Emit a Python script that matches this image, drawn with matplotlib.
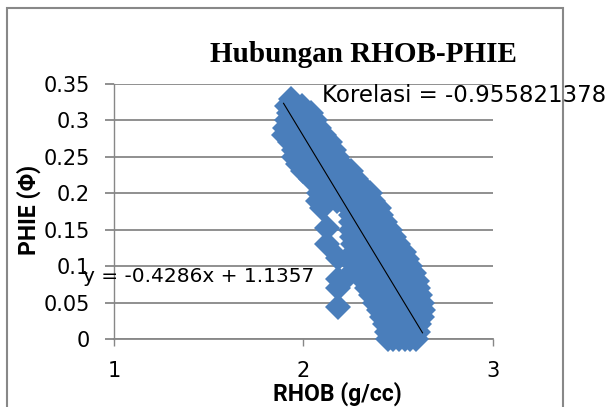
import matplotlib.pyplot as plt
from matplotlib.patches import Rectangle
from matplotlib.ticker import FuncFormatter

# data (RHOB g/cc, PHIE), row by row from top to bottom
rhob = [1.935,
        1.915, 1.96, 1.99,
        1.925, 1.97, 2.015, 2.04,
        1.915, 1.96, 2.01, 2.06,
        1.905, 1.95, 1.995, 2.04, 2.085,
        1.895, 1.94, 1.985, 2.03, 2.075, 2.11,
        1.93, 1.975, 2.02, 2.065, 2.105, 2.14,
        1.95, 1.995, 2.04, 2.085, 2.125, 2.16,
        1.95, 1.995, 2.04, 2.085, 2.13, 2.18,
        1.97, 2.015, 2.06, 2.105, 2.15, 2.205,
        2.00, 2.045, 2.09, 2.135, 2.18, 2.225, 2.25,
        2.04, 2.085, 2.13, 2.175, 2.22, 2.265, 2.28,
        2.09, 2.135, 2.18, 2.225, 2.27, 2.31,
        2.08, 2.175, 2.215, 2.26, 2.305, 2.35,
        2.075, 2.12, 2.18, 2.225, 2.27, 2.32, 2.37,
        2.10, 2.24, 2.285, 2.33, 2.375, 2.40,
        2.25, 2.295, 2.34, 2.385, 2.41,
        2.25, 2.295, 2.34, 2.385, 2.43,
        2.124, 2.25, 2.295, 2.34, 2.385, 2.43, 2.46,
        2.255, 2.30, 2.345, 2.39, 2.435, 2.48,
        2.124, 2.26, 2.305, 2.35, 2.395, 2.44, 2.485, 2.50,
        2.265, 2.31, 2.355, 2.40, 2.445, 2.49, 2.53,
        2.185, 2.27, 2.315, 2.36, 2.405, 2.45, 2.495, 2.54, 2.55,
        2.275, 2.32, 2.365, 2.41, 2.455, 2.50, 2.545, 2.565,
        2.24, 2.30, 2.345, 2.39, 2.435, 2.48, 2.525, 2.57, 2.585,
        2.185, 2.32, 2.365, 2.41, 2.455, 2.50, 2.545, 2.60,
        2.185, 2.337, 2.38, 2.425, 2.47, 2.515, 2.56, 2.607,
        2.36, 2.405, 2.45, 2.495, 2.54, 2.585, 2.615,
        2.38, 2.425, 2.47, 2.515, 2.56, 2.605, 2.625,
        2.185, 2.40, 2.445, 2.49, 2.535, 2.58, 2.63,
        2.415, 2.46, 2.505, 2.55, 2.595, 2.625,
        2.43, 2.475, 2.52, 2.565, 2.61,
        2.44, 2.485, 2.53, 2.575, 2.605,
        2.45, 2.475, 2.505, 2.535, 2.565, 2.595]
phie = [0.33,
        0.32, 0.32, 0.32,
        0.31, 0.31, 0.31, 0.31,
        0.30, 0.30, 0.30, 0.30,
        0.29, 0.29, 0.29, 0.29, 0.29,
        0.28, 0.28, 0.28, 0.28, 0.28, 0.28,
        0.27, 0.27, 0.27, 0.27, 0.27, 0.27,
        0.26, 0.26, 0.26, 0.26, 0.26, 0.26,
        0.25, 0.25, 0.25, 0.25, 0.25, 0.25,
        0.24, 0.24, 0.24, 0.24, 0.24, 0.24,
        0.23, 0.23, 0.23, 0.23, 0.23, 0.23, 0.23,
        0.22, 0.22, 0.22, 0.22, 0.22, 0.22, 0.22,
        0.21, 0.21, 0.21, 0.21, 0.21, 0.21,
        0.20, 0.20, 0.20, 0.20, 0.20, 0.20,
        0.19, 0.19, 0.19, 0.19, 0.19, 0.19, 0.19,
        0.18, 0.18, 0.18, 0.18, 0.18, 0.18,
        0.17, 0.17, 0.17, 0.17, 0.17,
        0.16, 0.16, 0.16, 0.16, 0.16,
        0.152, 0.15, 0.15, 0.15, 0.15, 0.15, 0.15,
        0.14, 0.14, 0.14, 0.14, 0.14, 0.14,
        0.131, 0.13, 0.13, 0.13, 0.13, 0.13, 0.13, 0.13,
        0.12, 0.12, 0.12, 0.12, 0.12, 0.12, 0.12,
        0.111, 0.11, 0.11, 0.11, 0.11, 0.11, 0.11, 0.11, 0.11,
        0.10, 0.10, 0.10, 0.10, 0.10, 0.10, 0.10, 0.10,
        0.088, 0.09, 0.09, 0.09, 0.09, 0.09, 0.09, 0.09, 0.09,
        0.083, 0.08, 0.08, 0.08, 0.08, 0.08, 0.08, 0.08,
        0.07, 0.07, 0.07, 0.07, 0.07, 0.07, 0.07, 0.07,
        0.06, 0.06, 0.06, 0.06, 0.06, 0.06, 0.06,
        0.05, 0.05, 0.05, 0.05, 0.05, 0.05, 0.05,
        0.044, 0.04, 0.04, 0.04, 0.04, 0.04, 0.04,
        0.03, 0.03, 0.03, 0.03, 0.03, 0.03,
        0.02, 0.02, 0.02, 0.02, 0.02,
        0.01, 0.01, 0.01, 0.01, 0.01,
        0.00, 0.00, 0.00, 0.00, 0.00, 0.00]

# trendline from the chart label
slope = -0.4286
intercept = 1.1357
korelasi = -0.955821378

x_ticks = [1, 2, 3]
y_ticks = [0, 0.05, 0.1, 0.15, 0.2, 0.25, 0.3, 0.35]

biru = '#4A7EBB'
abu = '#878787'

fig = plt.figure(figsize=(6.11, 4.07), dpi=100)
ax = fig.add_axes([114.3 / 611, 68 / 407, 378.2 / 611, 255 / 407])

ax.plot(rhob, phie, ls='none', marker='D', ms=13, color=biru, mec=biru, mew=0,
        clip_on=False, zorder=3)

xs = [min(rhob), max(rhob)]
ax.plot(xs, [slope * v + intercept for v in xs], color='black', lw=0.8, zorder=4)

ax.set_xlim(1, 3)
ax.set_ylim(0, 0.35)
ax.set_xticks(x_ticks)
ax.set_yticks(y_ticks)
ax.yaxis.set_major_formatter(FuncFormatter(lambda v, p: '%g' % v))
ax.grid(axis='y', color=abu, lw=1.3)
ax.set_axisbelow(True)
for s in ['top', 'right']:
    ax.spines[s].set_visible(False)
ax.spines['left'].set_color(abu)
ax.spines['left'].set_linewidth(1.0)
ax.spines['bottom'].set_color(abu)
ax.spines['bottom'].set_linewidth(1.3)
ax.spines['bottom'].set_zorder(1)
ax.spines['left'].set_zorder(1)
ax.tick_params(axis='y', direction='out', length=6.8, width=1.3, color=abu,
               pad=11, labelsize=15)
ax.tick_params(axis='x', direction='out', length=5, width=1.0, color=abu,
               pad=11, labelsize=15)
for lab in ax.get_xticklabels() + ax.get_yticklabels():
    lab.set_fontfamily('DejaVu Sans')

fig.text(363.5 / 611, (407 - 62) / 407, 'Hubungan RHOB-PHIE', ha='center',
         va='baseline', fontsize=21, fontweight='bold', family='Liberation Serif')
fig.text(337.5 / 611, (407 - 401) / 407, 'RHOB (g/cc)', ha='center', va='baseline',
         fontsize=16.5, fontweight='bold', family=['Roboto', 'DejaVu Sans'])
fig.text(29 / 611, (407 - 210) / 407, 'PHIE (\u03a6)', ha='center', va='center',
         rotation=90, fontsize=16.5, fontweight='bold', family=['Roboto', 'DejaVu Sans'])
fig.text(83 / 611, (407 - 282) / 407, 'y = %.4fx + %.4f' % (slope, intercept),
         ha='left', va='baseline', fontsize=14.5, family='DejaVu Sans')
fig.text(322 / 611, (407 - 101.7) / 407, 'Korelasi = %.9f' % korelasi,
         ha='left', va='baseline', fontsize=16.5, family='DejaVu Sans')

fig.patches.append(Rectangle((7 / 611, -0.2), 556 / 611, 0.2 + (407 - 8) / 407,
                             transform=fig.transFigure, fill=False, ec='#888888',
                             lw=1.5))

fig.savefig('out.png', dpi=100)
